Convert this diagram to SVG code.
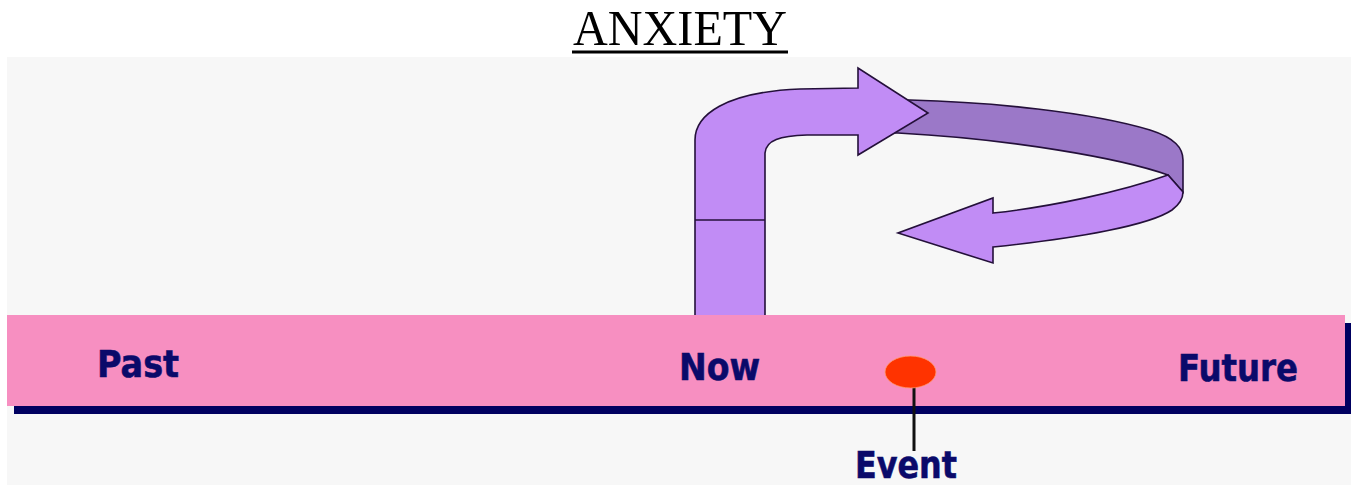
<svg xmlns="http://www.w3.org/2000/svg" width="1351" height="485" viewBox="0 0 1351 485">
  <style>
    .lbl { font-family: "DejaVu Sans", Verdana, sans-serif; font-weight: bold; font-size: 37px; fill: #0a0a6a; stroke: #0a0a6a; stroke-width: 0.6; }
    .arrow { stroke: #24103a; stroke-width: 1.6; stroke-linejoin: miter; }
    .light { fill: #c18cf5; }
    .dark { fill: #9b78c8; }
  </style>
  <rect x="0" y="0" width="1351" height="485" fill="#ffffff"/>
  <rect x="7" y="57" width="1344" height="428" fill="#f7f7f7"/>

  <g id="title">
    <text x="573" y="45" font-family="'Liberation Serif', 'Times New Roman', serif" font-size="50" textLength="214" lengthAdjust="spacingAndGlyphs" fill="#000000">ANXIETY</text>
    <rect x="572" y="50.5" width="216" height="3" fill="#000000"/>
  </g>

  <g id="loop-arrow">
    <path class="arrow dark" d="M 880 100 L 910 100 C 990 102 1090 112 1150 130 C 1175 138 1183 148 1183 160 L 1183 192 L 1168 175 C 1120 158 1010 139 898 133 L 880 133 Z"/>
    <path class="arrow light" d="M 1168 175 C 1120 192 1050 207 993 213 L 993 198 L 898 233 L 993 263 L 993 247 C 1080 238 1150 225 1172 210 C 1180 204 1183 198 1183 192 Z"/>
    <path class="arrow light" d="M 695 320 L 695 140 C 695 115 725 92 800 89 L 858 88 L 858 68 L 928 113 L 858 155 L 858 135 L 807 135 C 780 136 766 140 765 153 L 765 320 Z"/>
    <line class="arrow" x1="695" y1="220" x2="765" y2="220"/>
  </g>

  <g id="timeline">
    <rect x="14" y="323" width="1337" height="91" fill="#000060"/>
    <rect x="7" y="315" width="1338" height="91" fill="#f78fc1"/>
  </g>

  <g id="past">
    <text class="lbl" x="97" y="377" textLength="82" lengthAdjust="spacingAndGlyphs">Past</text>
  </g>
  <g id="now">
    <text class="lbl" x="679" y="380" textLength="81" lengthAdjust="spacingAndGlyphs">Now</text>
  </g>
  <g id="future">
    <text class="lbl" x="1178" y="381" textLength="120" lengthAdjust="spacingAndGlyphs">Future</text>
  </g>

  <g id="connectors">
    <line x1="914" y1="386" x2="914" y2="451" stroke="#111111" stroke-width="3"/>
  </g>

  <g id="event-marker">
    <ellipse cx="910.5" cy="372" rx="25.5" ry="16" fill="#ff3300" stroke="#ff9a70" stroke-width="0.8"/>
  </g>
  <g id="event">
    <text class="lbl" x="855" y="478" textLength="102" lengthAdjust="spacingAndGlyphs">Event</text>
  </g>
</svg>
